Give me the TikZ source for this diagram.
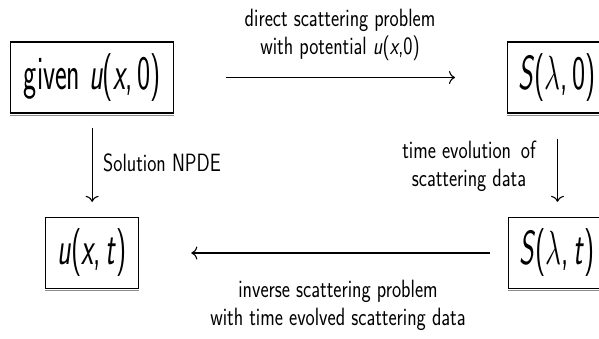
\RequirePackage{fix-cm}
\documentclass[tikz,border=0pt]{standalone}
\usepackage{graphicx}
\usetikzlibrary{arrows.meta}

% big state text and smaller edge labels, both set in narrow sans
\newcommand{\statetext}[1]{\scalebox{0.58}[1]{\fontsize{48}{56}\selectfont\sffamily #1}}
\newcommand{\edgetext}[1]{\scalebox{0.78}[1]{\fontsize{25}{28}\selectfont\sffamily\begin{tabular}{@{}c@{}}#1\end{tabular}}}

\begin{document}
\begin{tikzpicture}[x=1pt,y=-1pt,
  statebox/.style={draw, line width=1.3pt, minimum height=71pt, inner ysep=0pt, anchor=west},
  flow/.style={-{Computer Modern Rightarrow[length=6pt,width=13pt]}, line width=1.1pt},
  edgelabel/.style={inner sep=0pt}]
\useasboundingbox (0,0) rectangle (599,339);

% states
\node[statebox, minimum width=163pt, inner xsep=0pt] (g) at (10,77.5)
  {\statetext{given \textit{u}(\textit{x},\,0)}};
\node[statebox, text width=90pt, align=left, inner xsep=11pt] (s0) at (507,77.5)
  {\statetext{\textit{S}(\ensuremath{\lambda},\,0)}};
\node[statebox, minimum width=93pt, inner xsep=0pt] (u) at (45,253)
  {\statetext{\textit{u}(\textit{x},\,\textit{t})}};
\node[statebox, text width=90pt, align=left, inner xsep=11pt] (st) at (508,253)
  {\statetext{\textit{S}(\ensuremath{\lambda},\,\textit{t})}};

% soft lower edge under each box
\foreach \b in {g,s0,u,st}
  \draw[black!45, line width=1.2pt] ([yshift=-1.6pt]\b.south west) -- ([yshift=-1.6pt]\b.south east);

% transitions
\draw[flow, shorten <=52pt, shorten >=52pt] (g.east) -- (s0.west);
\draw[flow, shorten <=14pt, shorten >=15pt] (g.south) -- (u.north);
\draw[flow, shorten <=25pt, shorten >=15pt] ([xshift=50.5pt]s0.south west) -- ([xshift=49.5pt]st.north west);
\draw[flow, shorten <=18pt, shorten >=52pt] (st.west) -- (u.east);

% labels
\node[edgelabel] (ltop) at (340,35)
  {\edgetext{direct scattering problem\\with potential \textit{u}(\textit{x},0)}};
\node[edgelabel, anchor=west] (lleft) at (103,166)
  {\edgetext{Solution NPDE}};
\node[edgelabel] (lright) at (469,167)
  {\edgetext{time evolution\enspace of\\scattering data}};
\node[edgelabel] (lbot) at (338,306)
  {\edgetext{inverse scattering problem\\with time evolved scattering data}};
\end{tikzpicture}
\end{document}
